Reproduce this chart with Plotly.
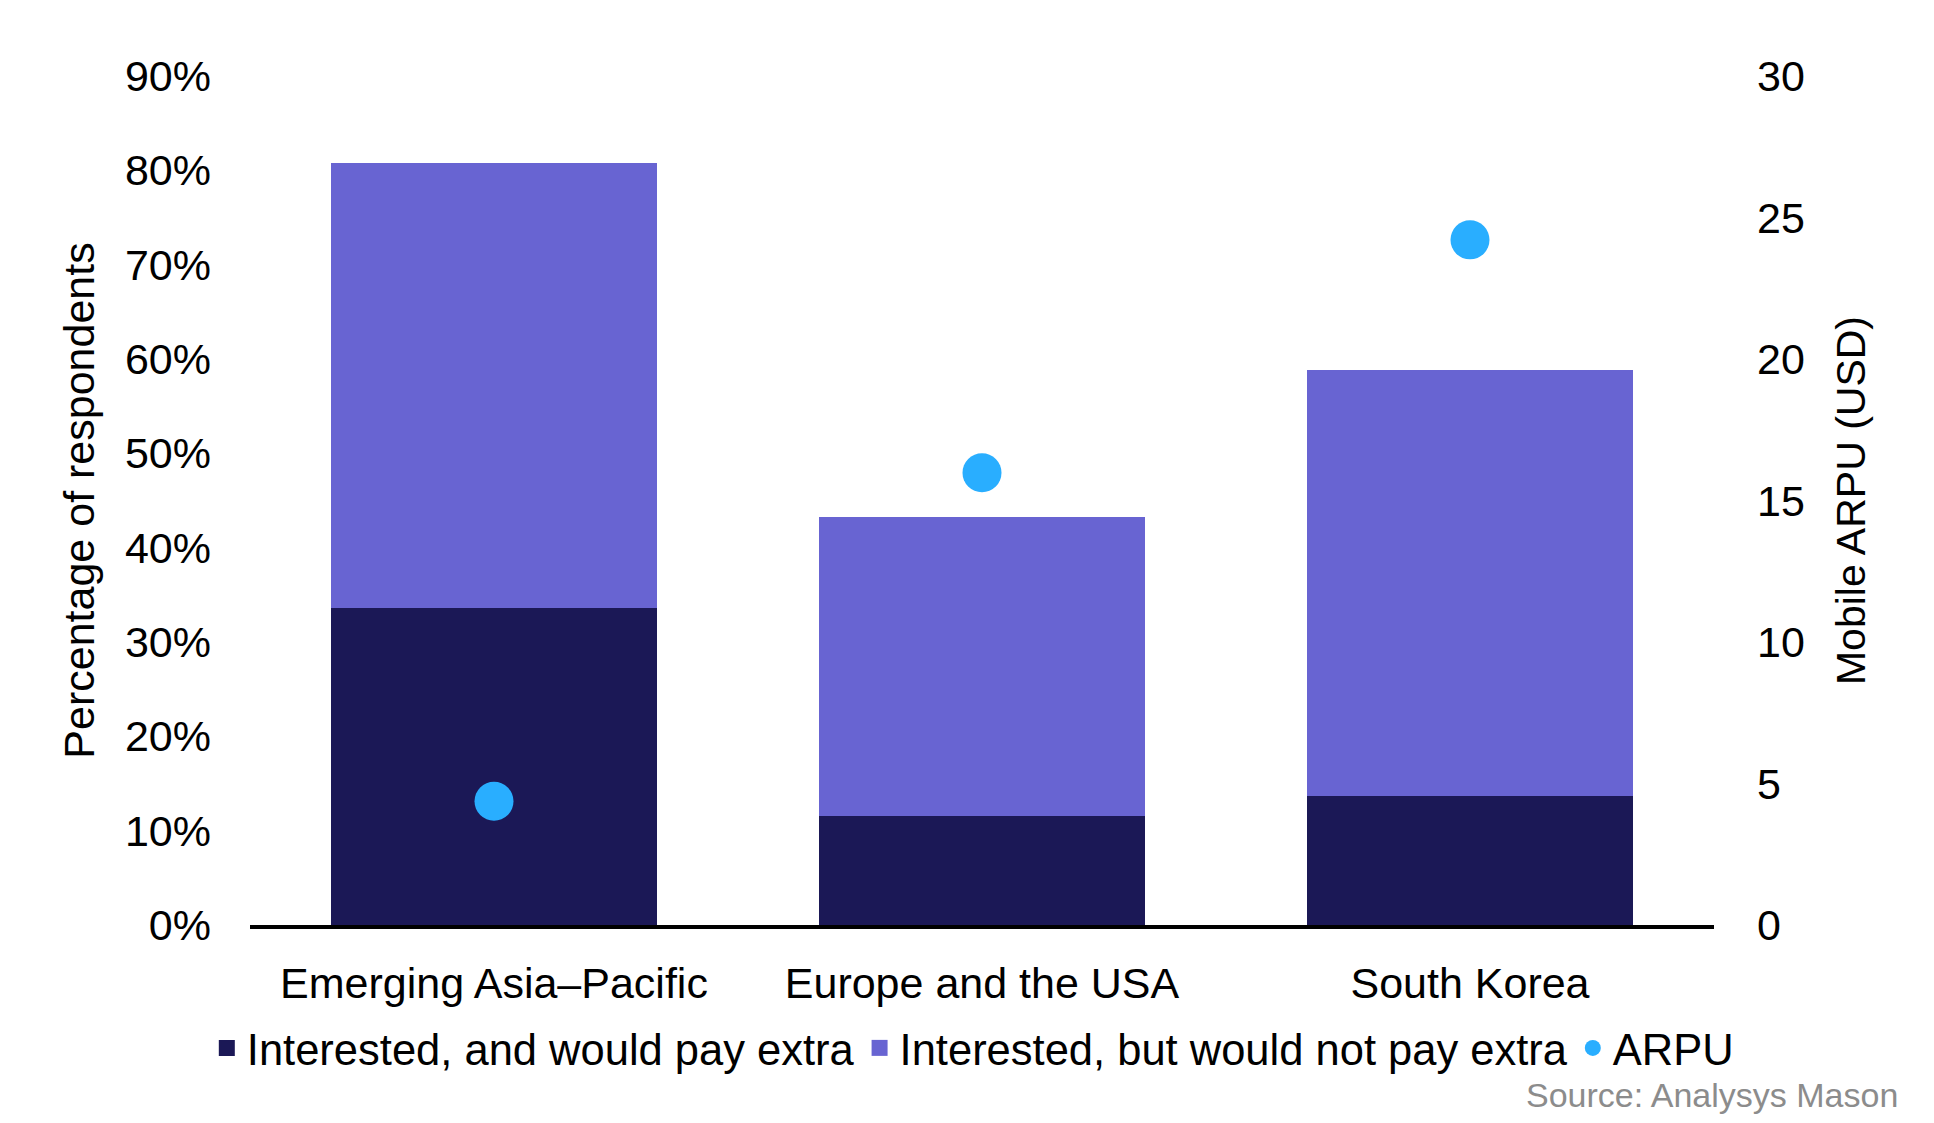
import plotly.graph_objects as go

categories = ["Emerging Asia\u2013Pacific", "Europe and the USA", "South Korea"]
pay_extra = [33.6, 11.6, 13.7]
no_pay_extra = [47.2, 31.6, 45.1]
arpu = [4.37, 15.98, 24.21]

DARK = "#1B1856"
MID = "#6864D2"
DOT = "#29AEFF"
FONT = "Liberation Sans"

fig = go.Figure()
fig.add_trace(go.Bar(x=categories, y=pay_extra, name="Interested, and would pay extra",
                     marker=dict(color=DARK, line=dict(width=0)), width=0.67, showlegend=False))
fig.add_trace(go.Bar(x=categories, y=no_pay_extra, name="Interested, but would not pay extra",
                     marker=dict(color=MID, line=dict(width=0)), width=0.67, showlegend=False))
fig.add_trace(go.Scatter(x=categories, y=arpu, name="ARPU", mode="markers", yaxis="y2",
                         marker=dict(color=DOT, size=39, line=dict(width=0)), showlegend=False))

# legend entries
fig.add_trace(go.Scatter(x=[None], y=[None], mode="markers", name="Interested, and would pay extra",
                         marker=dict(symbol="square", color=DARK, size=16)))
fig.add_trace(go.Scatter(x=[None], y=[None], mode="markers", name="Interested, but would not pay extra",
                         marker=dict(symbol="square", color=MID, size=16)))
fig.add_trace(go.Scatter(x=[None], y=[None], mode="markers", name="ARPU",
                         marker=dict(symbol="circle", color=DOT, size=16)))

fig.update_layout(
    width=1934, height=1123,
    barmode="stack",
    plot_bgcolor="white", paper_bgcolor="white",
    margin=dict(l=242, r=228, t=68, b=206, autoexpand=False),
    font=dict(family=FONT, size=43, color="black"),
    xaxis=dict(showline=True, linecolor="black", linewidth=4, ticks="", showgrid=False,
               tickfont=dict(size=43), ticklabelstandoff=17),
    yaxis=dict(range=[0, 90], dtick=10, ticksuffix="%", showgrid=False, zeroline=False,
               ticks="", tickfont=dict(size=43), ticklabelstandoff=38,
               title=dict(text="Percentage of respondents", font=dict(size=43), standoff=16)),
    yaxis2=dict(range=[0, 30], dtick=5, overlaying="y", side="right", showgrid=False,
                zeroline=False, ticks="", tickfont=dict(size=43), ticklabelstandoff=42,
                title=dict(text="Mobile ARPU (USD)", font=dict(size=41), standoff=32)),
    legend=dict(orientation="h", x=-0.0295, xanchor="left", y=-0.145, yanchor="middle",
                font=dict(size=43.5), itemwidth=30, tracegroupgap=0, traceorder="normal",
                bgcolor="rgba(0,0,0,0)"),
    annotations=[dict(text="Source: Analysys Mason", xref="paper", yref="paper",
                      x=1.127, y=-0.2, xanchor="right", yanchor="middle", showarrow=False,
                      font=dict(size=34, color="#8C8C8C"))],
)

fig.write_html("out.html")
